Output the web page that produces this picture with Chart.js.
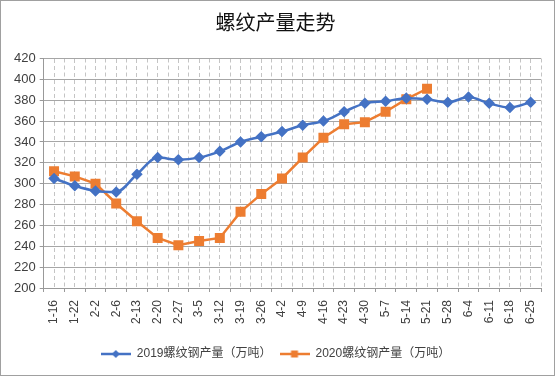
<!DOCTYPE html>
<html>
<head>
<meta charset="utf-8">
<script src="https://cdn.jsdelivr.net/npm/chart.js@4/dist/chart.umd.min.js"></script>
<style>
  html, body { margin: 0; padding: 0; background: #fff; }
  #wrap { width: 555px; height: 376px; }
</style>
</head>
<body>
<div id="wrap"><canvas id="myChart" width="555" height="376"></canvas></div>
<script>
const weeks = ['1-16', '1-22', '2-2', '2-6', '2-13', '2-20', '2-27', '3-5', '3-12', '3-19', '3-26', '4-2',
  '4-9', '4-16', '4-23', '4-30', '5-7', '5-14', '5-21', '5-28', '6-4', '6-11', '6-18', '6-25'];
const output2019 = [305, 298, 293, 292, 309, 325, 323, 325, 331, 340, 345, 350,
  356, 360, 369, 377, 379, 382, 381, 378, 383, 377, 373, 378];
const output2020 = [312, 307, 300, 281, 264, 248, 241, 245, 248, 273, 290, 305,
  325, 344, 357, 359, 369, 381, 391, null, null, null, null, null];
const name2019 = '2019螺纹钢产量（万吨）';
const name2020 = '2020螺纹钢产量（万吨）';
const yTicks = { min: 200, max: 420, step: 20 };

const blue = '#4472C4', orange = '#ED7D31';
const fontFam = '"Liberation Sans", Arial, "Noto Sans CJK SC", sans-serif';

// legend icon: short line with the marker on it
const legendIcon = function (color, shape) {
  const c = document.createElement('canvas');
  c.width = 30; c.height = 10;
  const ctx = c.getContext('2d');
  ctx.strokeStyle = color; ctx.lineWidth = 2.5;
  ctx.beginPath(); ctx.moveTo(0, 5); ctx.lineTo(30, 5); ctx.stroke();
  ctx.fillStyle = color;
  ctx.beginPath();
  if (shape == 'diamond') {
    ctx.moveTo(15, 1); ctx.lineTo(19, 5); ctx.lineTo(15, 9); ctx.lineTo(11, 5);
  } else {
    ctx.rect(11.5, 1.5, 7, 7);
  }
  ctx.fill();
  return c;
};

const frame = {
  id: 'frame',
  beforeDraw(chart) {
    const ctx = chart.ctx;
    ctx.save();
    ctx.fillStyle = '#fff';
    ctx.fillRect(0, 0, chart.width, chart.height);
    ctx.restore();
  },
  afterDraw(chart) {
    const ctx = chart.ctx;
    ctx.save();
    ctx.strokeStyle = '#a0a0a0';
    ctx.lineWidth = 1;
    ctx.strokeRect(0.5, 0.5, chart.width - 1, chart.height - 1);
    ctx.restore();
  }
};

Chart.defaults.font.family = fontFam;
Chart.defaults.color = '#404040';

new Chart(document.getElementById('myChart').getContext('2d'), {
  type: 'line',
  data: {
    labels: weeks,
    datasets: [
      {
        label: name2019,
        data: output2019,
        borderColor: blue,
        backgroundColor: blue,
        borderWidth: 2.5,
        pointStyle: 'rectRot',
        pointRadius: 4,
        pointHoverRadius: 4,
        cubicInterpolationMode: 'monotone',
        tension: 0.3,
      },
      {
        label: name2020,
        data: output2020,
        borderColor: orange,
        backgroundColor: orange,
        borderWidth: 2.5,
        pointStyle: 'rect',
        pointRadius: 5.3,
        pointHoverRadius: 5.3,
        tension: 0,
      },
    ],
  },
  options: {
    responsive: false,
    animation: false,
    layout: { padding: { left: 10, right: 14, top: 0, bottom: 6 } },
    plugins: {
      title: {
        display: true,
        text: '螺纹产量走势',
        color: '#111',
        font: { family: '"Noto Sans CJK SC", sans-serif', size: 20, weight: 'normal' },
        padding: { top: 10, bottom: 24.5 },
      },
      legend: {
        position: 'bottom',
        labels: {
          usePointStyle: true,
          pointStyleWidth: 30,
          padding: 8,
          color: '#404040',
          font: { family: fontFam, size: 12 },
          generateLabels: function (chart) {
            return [
              { text: name2019, pointStyle: legendIcon(blue, 'diamond'), datasetIndex: 0, fontColor: '#404040', lineWidth: 0, strokeStyle: 'transparent', fillStyle: blue },
              { text: name2020, pointStyle: legendIcon(orange, 'square'), datasetIndex: 1, fontColor: '#404040', lineWidth: 0, strokeStyle: 'transparent', fillStyle: orange },
            ];
          },
        },
      },
      tooltip: { enabled: false },
    },
    scales: {
      x: {
        offset: true,
        grid: { offset: true, color: '#c4c4c4', tickLength: 4, tickColor: '#999', tickBorderDash: [] },
        border: { display: true, color: '#999', dash: [4, 3] },
        ticks: { minRotation: 90, maxRotation: 90, autoSkip: false, padding: 8, color: '#404040', font: { size: 12 } },
        afterFit: function (scale) {
          scale.height = 52;
        },
      },
      xMid: {
        type: 'category',
        labels: weeks,
        position: 'top',
        offset: true,
        grid: { offset: false, color: '#c4c4c4', drawTicks: false },
        border: { display: false, dash: [4, 3] },
        ticks: { display: false },
      },
      y: {
        min: yTicks.min,
        max: yTicks.max,
        ticks: { stepSize: yTicks.step, padding: 4, color: '#404040', font: { size: 13 } },
        grid: { color: '#a6a6a6', tickLength: 4, tickColor: '#999' },
        border: { display: true, color: '#999' },
      },
    },
  },
  plugins: [frame],
});
</script>
</body>
</html>
